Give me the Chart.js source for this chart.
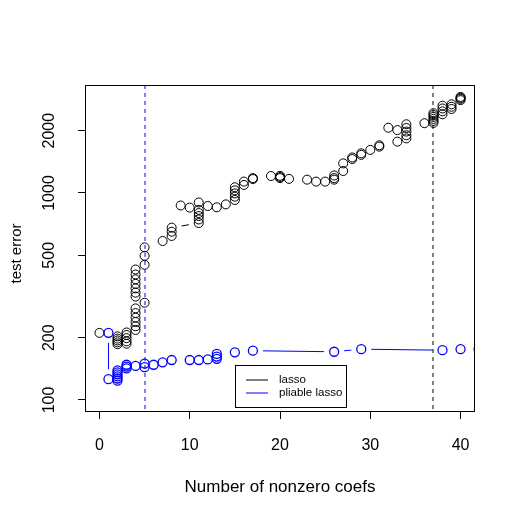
<!DOCTYPE html>
<html>
<head>
<meta charset="utf-8">
<title>test error</title>
<script src="https://cdn.jsdelivr.net/npm/chart.js"></script>
<style>
  html, body { margin: 0; padding: 0; background: #fff; }
  #canvas { display: block; }
</style>
</head>
<body>
<canvas id="canvas" width="519" height="519"></canvas>
<script>
// points are kept in path order (type "b" lines join neighbours)
var lassoX = [0,
  2, 2, 2, 2, 2,
  3, 3, 3, 3, 3,
  4, 4, 4, 4, 4, 4,
  5,
  4, 4, 4, 4, 4, 4, 4,
  5, 5, 5,
  7, 8, 8, 8,
  11, 11, 11, 11, 11,
  9, 10, 11, 12, 13, 14,
  15, 15, 15, 15, 15,
  16, 16, 17, 17, 19, 20, 20, 20, 21, 23, 24, 25,
  26, 26, 26, 27, 27, 28, 28, 29, 29, 30, 31, 31,
  32, 33, 33, 34, 34, 34, 34, 34, 36,
  37, 37, 37, 37, 37, 37,
  38, 38, 38, 38, 39, 39, 39, 40, 40, 40, 40];
var lassoY = [211,
  203, 198, 194, 190, 186,
  187, 192, 199, 206, 212,
  218, 227, 238, 250, 263, 277,
  295,
  316, 330, 346, 364, 383, 404, 427,
  450, 497, 546,
  586, 620, 650, 680,
  716, 745, 774, 800, 829,
  870, 850, 900, 865, 853, 881,
  925, 960, 995, 1030, 1066,
  1094, 1135, 1168, 1180, 1208, 1210, 1195, 1180, 1170, 1160, 1135, 1135,
  1160, 1180, 1215, 1277, 1390, 1459, 1485, 1528, 1555, 1615, 1675, 1700,
  2066, 2013, 1770, 1836, 1900, 1980, 2060, 2148, 2173,
  2180, 2230, 2280, 2330, 2380, 2430,
  2400, 2480, 2560, 2640, 2545, 2610, 2682, 2810, 2850, 2880, 2910];

var pliableX = [1, 1, 2, 2, 2, 2, 2, 2, 3, 3, 3, 4, 5, 5, 6, 7, 8, 10, 11, 12,
  13, 13, 13, 15, 17, 26, 29, 38, 40, 42];
var pliableY = [211, 126, 124, 127, 130, 133, 136, 139, 142, 145, 148, 146, 144, 150, 148, 152, 156, 156, 156, 157,
  158, 162, 167, 170, 173, 171, 176, 174, 176, 176];

var xTicks = [0, 10, 20, 30, 40];
var yTicks = [100, 200, 500, 1000, 2000];
var cutX = [5, 37];
var cutColors = ['#0000FF', '#000000'];
var seriesNames = ['lasso', 'pliable lasso'];
var seriesColors = ['#000000', '#0000FF'];

var FONT = '"Liberation Sans", Arial, sans-serif';

function toPoints(xs, ys) {
  return xs.map(function (x, i) { return { x: x, y: ys[i] }; });
}

var rPlot = {
  id: 'rPlot',
  beforeDraw: function (chart) {
    var ctx = chart.ctx;
    ctx.save();
    ctx.fillStyle = '#fff';
    ctx.fillRect(0, 0, chart.width, chart.height);
    ctx.restore();
  },
  beforeDatasetsDraw: function (chart) {
    // lines between points, stopped short of each circle
    var ctx = chart.ctx, a = chart.chartArea, gap = 10;
    ctx.save();
    ctx.beginPath();
    ctx.rect(a.left, a.top, a.right - a.left, a.bottom - a.top);
    ctx.clip();
    ctx.lineWidth = 1;
    chart.data.datasets.forEach(function (ds, i) {
      var pts = chart.getDatasetMeta(i).data;
      ctx.strokeStyle = ds.borderColor;
      for (var k = 1; k < pts.length; k++) {
        var p = pts[k - 1], q = pts[k];
        var dx = q.x - p.x, dy = q.y - p.y, d = Math.sqrt(dx * dx + dy * dy);
        if (d <= 2 * gap) continue;
        var ux = dx / d, uy = dy / d;
        ctx.beginPath();
        ctx.moveTo(p.x + ux * gap, p.y + uy * gap);
        ctx.lineTo(q.x - ux * gap, q.y - uy * gap);
        ctx.stroke();
      }
    });
    ctx.restore();
  },
  afterDraw: function (chart) {
    var ctx = chart.ctx, a = chart.chartArea;
    var xs = chart.scales.x, ys = chart.scales.y;
    ctx.save();

    // dashed vertical lines
    ctx.lineWidth = 1;
    ctx.setLineDash([4, 4]);
    cutX.forEach(function (v, i) {
      var px = Math.round(xs.getPixelForValue(v));
      ctx.strokeStyle = cutColors[i];
      ctx.beginPath();
      ctx.moveTo(px, a.top);
      ctx.lineTo(px, a.bottom);
      ctx.stroke();
    });
    ctx.setLineDash([]);

    // box
    ctx.strokeStyle = '#000';
    ctx.strokeRect(a.left + 0.5, a.top + 0.5, a.right - a.left - 1, a.bottom - a.top - 1);

    // tick labels
    ctx.fillStyle = '#000';
    ctx.font = '16px ' + FONT;
    ctx.textAlign = 'center';
    ctx.textBaseline = 'middle';
    xTicks.forEach(function (v) {
      ctx.fillText(String(v), xs.getPixelForValue(v), 446);
    });
    yTicks.forEach(function (v) {
      ctx.save();
      ctx.translate(50, ys.getPixelForValue(v));
      ctx.rotate(-Math.PI / 2);
      ctx.fillText(String(v), 0, 0);
      ctx.restore();
    });

    // axis titles
    ctx.font = '17px ' + FONT;
    ctx.fillText('Number of nonzero coefs', (a.left + a.right) / 2, 487);
    ctx.font = '15px ' + FONT;
    ctx.save();
    ctx.translate(17, (a.top + a.bottom) / 2 + 5);
    ctx.rotate(-Math.PI / 2);
    ctx.fillText('test error', 0, 0);
    ctx.restore();

    // legend
    var lx = a.left + 150, ly = a.top + 280;
    ctx.fillStyle = '#fff';
    ctx.fillRect(lx, ly, 112, 43);
    ctx.strokeStyle = '#000';
    ctx.strokeRect(lx + 0.5, ly + 0.5, 111, 42);
    ctx.font = '11.5px ' + FONT;
    ctx.textAlign = 'left';
    seriesNames.forEach(function (name, i) {
      var yy = ly + 14.5 + i * 13.5;
      ctx.strokeStyle = seriesColors[i];
      ctx.beginPath();
      ctx.moveTo(lx + 11, Math.round(yy));
      ctx.lineTo(lx + 33, Math.round(yy));
      ctx.stroke();
      ctx.fillStyle = '#000';
      ctx.fillText(name, lx + 44, yy);
    });

    ctx.restore();
  }
};

var ctx = document.getElementById('canvas').getContext('2d');
var chart = new Chart(ctx, {
  type: 'scatter',
  data: {
    datasets: [
      {
        label: seriesNames[0],
        data: toPoints(lassoX, lassoY),
        borderColor: seriesColors[0],
        backgroundColor: 'rgba(0,0,0,0)',
        pointRadius: 4.5,
        pointBorderWidth: 1,
        pointHoverRadius: 4.5,
        showLine: false,
        clip: 0
      },
      {
        label: seriesNames[1],
        data: toPoints(pliableX, pliableY),
        borderColor: seriesColors[1],
        backgroundColor: 'rgba(0,0,0,0)',
        pointRadius: 4.5,
        pointBorderWidth: 1.3,
        pointHoverRadius: 4.5,
        showLine: false,
        clip: 0
      }
    ]
  },
  options: {
    responsive: false,
    animation: false,
    events: [],
    layout: { padding: { top: 85, right: 44, left: 0, bottom: 0 } },
    plugins: { legend: { display: false }, tooltip: { enabled: false } },
    scales: {
      x: {
        type: 'linear',
        min: -1.6,
        max: 41.6,
        afterBuildTicks: function (s) { s.ticks = xTicks.map(function (v) { return { value: v }; }); },
        afterFit: function (s) { s.height = 107; },
        grid: { drawOnChartArea: false, drawTicks: true, tickLength: 7, color: '#000' },
        border: { display: false },
        ticks: { display: false }
      },
      y: {
        type: 'logarithmic',
        min: 87.5,
        max: 3324,
        afterBuildTicks: function (s) { s.ticks = yTicks.map(function (v) { return { value: v }; }); },
        afterFit: function (s) { s.width = 85; },
        grid: { drawOnChartArea: false, drawTicks: true, tickLength: 7, color: '#000' },
        border: { display: false },
        ticks: { display: false }
      }
    }
  },
  plugins: [rPlot]
});
</script>
</body>
</html>
